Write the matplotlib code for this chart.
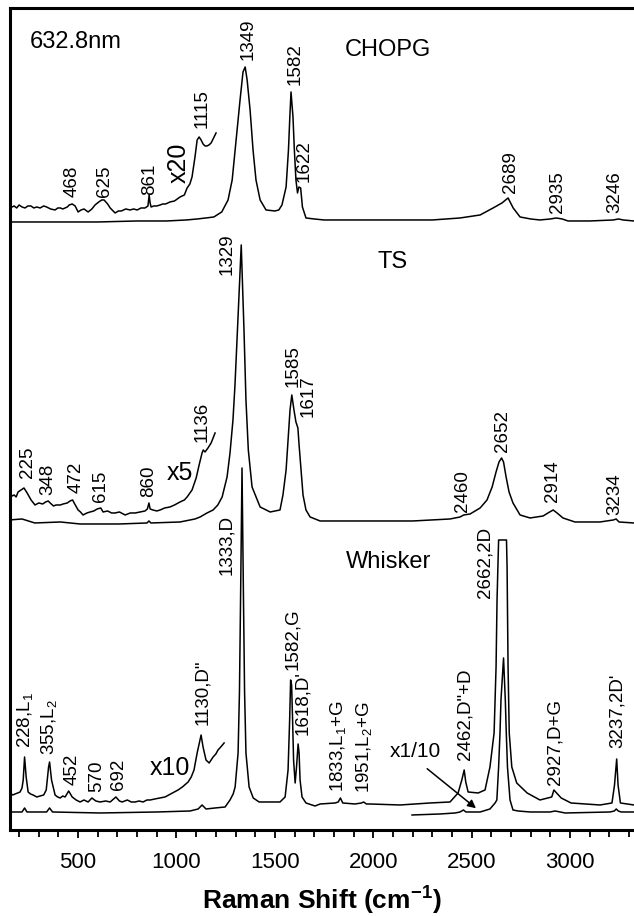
import numpy as np
import matplotlib
matplotlib.use("Agg")
import matplotlib.pyplot as plt
from matplotlib.ticker import MultipleLocator

plt.rcParams['font.family'] = ['Liberation Sans', 'DejaVu Sans']
plt.rcParams['mathtext.fontset'] = 'custom'
plt.rcParams['mathtext.rm'] = 'Liberation Sans'
plt.rcParams['mathtext.bf'] = 'Liberation Sans:bold'
plt.rcParams['mathtext.it'] = 'Liberation Sans:italic'

# ---- spectra: Raman shift (cm-1) and intensity above each trace's baseline (arb.)
chopg_x = [150, 400, 600, 800, 950, 1050, 1105, 1150, 1190, 1230, 1262, 1283, 1303, 1323, 1338, 1349,
           1359, 1374, 1389, 1404, 1425, 1455, 1500, 1520, 1536, 1557, 1569, 1576, 1582, 1592, 1599,
           1607, 1615, 1622, 1631, 1640, 1658, 1700, 1750, 2000, 2300, 2441, 2543, 2609, 2654, 2685,
           2711, 2746, 2800, 2847, 2900, 2930, 2960, 2990, 3100, 3220, 3246, 3270, 3325]
chopg_y = [0, 0, 0, 1, 1, 2, 3, 4, 5, 10, 22, 42, 82, 122, 150, 155,
           142, 112, 72, 42, 22, 12, 11, 12, 17, 35, 72, 105, 130, 105, 72,
           42, 29, 35, 34, 15, 4, 3, 2, 2, 2, 4, 7, 14, 19, 24,
           14, 5, 3, 2, 3, 4, 3, 1, 1, 2, 3, 2, 1]

chopg20_x = [150, 165, 175, 188, 200, 215, 230, 245, 260, 275, 290, 307, 325, 340, 360, 383, 397, 410,
             422, 434, 445, 455, 470, 485, 500, 515, 530, 551, 570, 586, 605, 620, 632, 650, 663,
             688, 705, 720, 742, 764, 782, 800, 820, 840, 855, 861, 866, 871, 885, 900, 917, 930,
             945, 967, 990, 1018, 1040, 1054, 1068, 1079, 1094, 1105, 1115, 1125, 1135, 1145, 1155,
             1165, 1176, 1191, 1201]
chopg20_y = [7, 5, 6, 4, 7, 5, 4, 6, 6, 4, 5, 4, 6, 5, 3, 2, 4, 4,
             3, 4, 5, 7, 8, 6, 0, 2, 3, 0, 3, 7, 10, 12, 12, 8, 4,
             -1, 1, 1, 3, 2, 3, 2, 4, 4, 6, 17, 9, 5, 6, 6, 7, 8,
             8, 10, 11, 15, 17, 24, 28, 35, 55, 72, 75, 72, 68, 66, 66,
             67, 69, 75, 79]

ts_x = [150, 215, 280, 410, 510, 710, 850, 860, 870, 1018, 1094, 1120, 1155, 1186, 1210, 1232, 1257,
        1272, 1287, 1297, 1313, 1329, 1343, 1353, 1365, 1384, 1425, 1476, 1526, 1541, 1557, 1567,
        1577, 1586, 1597, 1607, 1617, 1623, 1633, 1643, 1658, 1679, 1730, 1900, 2200, 2390, 2441,
        2460, 2492, 2543, 2578, 2604, 2624, 2639, 2652, 2662, 2675, 2690, 2710, 2746, 2797, 2863,
        2888, 2914, 2934, 2964, 3025, 3152, 3220, 3234, 3249, 3325]
ts_y = [3, 4, 0, 1, -1, -1, 0, 2, 0, 1, 4, 6, 10, 13, 18, 26, 46,
        70, 103, 137, 207, 278, 193, 123, 73, 36, 16, 11, 13, 28, 53, 83,
        113, 128, 113, 101, 95, 78, 53, 28, 13, 6, 2, 2, 2, 4, 6,
        8, 9, 15, 23, 36, 51, 61, 65, 61, 46, 31, 20, 8, 5, 7,
        10, 13, 10, 5, 1, 1, 3, 4, 1, 0]

ts5_x = [154, 165, 175, 185, 195, 210, 225, 241, 261, 281, 300, 320, 335, 348, 358, 375, 388, 410,
         424, 445, 459, 472, 480, 500, 512, 525, 545, 561, 580, 597, 615, 627, 650, 670, 688, 710,
         739, 765, 790, 815, 840, 852, 860, 866, 880, 900, 917, 940, 967, 990, 1018, 1040, 1054,
         1079, 1100, 1115, 1130, 1136, 1145, 1160, 1176, 1196]
ts5_y = [22, 19, 20, 18, 23, 25, 27, 22, 15, 10, 12, 11, 13, 14, 12, 9, 10, 10,
         11, 12, 14, 15, 12, 5, 3, 0, 2, 3, 4, 6, 7, 3, 4, 2, 2, 3,
         0, 2, 2, 3, 4, 6, 12, 6, 5, 4, 5, 7, 8, 10, 13, 15, 18,
         25, 37, 50, 62, 65, 63, 67, 72, 82]

wh_x = [150, 215, 228, 240, 340, 355, 370, 612, 900, 1069, 1110, 1130, 1150, 1196, 1247, 1272, 1288,
        1298, 1313, 1320, 1326, 1333, 1340, 1346, 1353, 1369, 1390, 1420, 1476, 1526, 1552, 1567,
        1575, 1580, 1585, 1590, 1595, 1603, 1610, 1618, 1623, 1628, 1638, 1658, 1704, 1730, 1806,
        1822, 1833, 1845, 1907, 1940, 1951, 1965, 1984, 2136, 2288, 2390, 2431, 2450, 2462, 2470,
        2482, 2533, 2568, 2593, 2614, 2624, 2629, 2634, 2637, 2677, 2680, 2685, 2691, 2704, 2729,
        2782, 2847, 2907, 2918, 2927, 2955, 3005, 3152, 3213, 3226, 3237, 3244, 3256, 3325]
wh_y = [0, 0, 4, 0, 0, 4, 0, -1, 0, 1, 3, 7, 3, 4, 5, 12, 18,
        25, 59, 120, 220, 344, 220, 120, 59, 25, 14, 10, 10, 10, 15, 42,
        92, 132, 127, 92, 52, 29, 45, 68, 59, 32, 15, 9, 6, 8, 9,
        10, 14, 9, 8, 9, 10, 8, 8, 7, 9, 10, 19, 32, 42, 30,
        20, 19, 22, 45, 79, 145, 212, 250, 272, 272, 245, 145, 79, 45, 29,
        19, 12, 15, 22, 20, 14, 9, 7, 9, 27, 53, 27, 9, 7]

wh10_x = [154, 168, 180, 193, 205, 215, 221, 228, 236, 246, 258, 271, 290, 307, 325, 338, 350, 355,
          365, 383, 396, 409, 422, 434, 452, 470, 490, 510, 530, 551, 570, 590, 612, 640, 663,
          692, 710, 724, 750, 770, 790, 810, 830, 850, 866, 890, 915, 942, 970, 1008, 1030, 1059,
          1075, 1089, 1105, 1125, 1135, 1150, 1166, 1186, 1200, 1211, 1225, 1242]
wh10_y = [10, 8, 9, 10, 11, 15, 23, 46, 26, 11, 9, 8, 6, 7, 8, 13, 36, 41,
          23, 8, 6, 5, 7, 6, 12, 6, 3, 1, 3, 1, 5, 2, 1, 2, 1,
          6, 2, 1, 3, 1, 1, 2, 1, 3, 3, 4, 5, 6, 9, 13, 16, 21,
          26, 33, 50, 68, 56, 43, 40, 46, 49, 53, 56, 60]

wh_tenth_x = [2197, 2339, 2416, 2441, 2458, 2471, 2543, 2593, 2619, 2628, 2637, 2644, 2649, 2662,
              2671, 2676, 2682, 2695, 2710, 2736, 2797, 2898, 2924, 2975, 3203, 3225, 3235, 3245,
              3260, 3325]
wh_tenth_y = [0, 1, 2, 3, 5, 3, 3, 6, 12, 15, 48, 82, 115, 157,
              115, 82, 48, 15, 5, 4, 3, 3, 4, 2, 3, 4, 6, 4,
              3, 3]

# ---- peak labels (text, x in cm-1, bottom of text in plot units)
chopg_labels = [("468", 470, 633), ("625", 632, 633), ("861", 866, 635), ("1115", 1130, 702),
                ("1349", 1364, 770), ("1582", 1603, 745), ("1622", 1648, 648),
                ("2689", 2695, 637), ("2935", 2934, 617), ("3246", 3229, 617)]
ts_labels = [("225", 241, 352), ("348", 348, 335), ("472", 490, 337), ("615", 612, 328),
             ("860", 856, 333), ("1136", 1130, 388), ("1329", 1257, 555), ("1585", 1592, 443),
             ("1617", 1669, 413), ("2460", 2456, 318), ("2652", 2659, 378),
             ("2914", 2913, 328), ("3234", 3229, 315)]
wh_labels = [(r"228,L$_{\mathrm{1}}$", 231, 82), (r"355,L$_{\mathrm{2}}$", 353, 75),
             ("452", 470, 45), ("570", 597, 38), ("692", 703, 40), ('1130,D"', 1135, 105),
             ("1333,D", 1257, 255), ("1582,G", 1592, 160), ("1618,D'", 1643, 95),
             (r"1833,L$_{\mathrm{1}}$+G", 1821, 38), (r"1951,L$_{\mathrm{2}}$+G", 1953, 37),
             ('2462,D"+D', 2466, 70), ("2662,2D", 2568, 232), ("2927,D+G", 2924, 45),
             ("3237,2D'", 3239, 82)]

# vertical offsets of the stacked traces
off_chopg, off_chopg20 = 608, 618
off_ts, off_ts5 = 307, 315
off_wh, off_wh10, off_wh_tenth = 18, 27, 15

fig = plt.figure(figsize=(6.34, 9.16), dpi=100)
ax = fig.add_axes([0.0158, 0.0939, 0.9842, 0.8974])

lw = 1.1
ax.plot(chopg_x, np.array(chopg_y) + off_chopg, color='k', lw=lw)
ax.plot(chopg20_x, np.array(chopg20_y) + off_chopg20, color='k', lw=lw)
ax.plot(ts_x, np.array(ts_y) + off_ts, color='k', lw=lw)
ax.plot(ts5_x, np.array(ts5_y) + off_ts5, color='k', lw=lw)
ax.plot(wh_x, np.array(wh_y) + off_wh, color='k', lw=lw)
ax.plot(wh10_x, np.array(wh10_y) + off_wh10, color='k', lw=lw)
ax.plot(wh_tenth_x, np.array(wh_tenth_y) + off_wh_tenth, color='k', lw=lw)

for txt, x, y in chopg_labels + ts_labels + wh_labels:
    ax.text(x, y, txt, rotation=90, ha='center', va='bottom', fontsize=13.5)

ax.text(256, 788, "632.8nm", fontsize=17, va='center')
ax.text(1857, 780, "CHOPG", fontsize=17, va='center')
ax.text(2024, 568, "TS", fontsize=17, va='center')
ax.text(1862, 268, "Whisker", fontsize=17, va='center')
ax.text(1013, 647, "x20", fontsize=18, rotation=90, ha='center', va='bottom')
ax.text(952, 357, "x5", fontsize=18, va='center')
ax.text(866, 62, "x10", fontsize=18, va='center')
ax.text(2085, 78, "x1/10", fontsize=15, va='center')
ax.annotate("", xy=(2533, 20), xytext=(2263, 63),
            arrowprops=dict(arrowstyle='-|>', color='k', lw=1.1, mutation_scale=12))

ax.set_xlim(154, 3325)
ax.set_ylim(0, 822)
ax.xaxis.set_major_locator(MultipleLocator(500))
ax.xaxis.set_minor_locator(MultipleLocator(100))
ax.tick_params(axis='x', which='major', direction='out', length=6, width=1.3, labelsize=16, pad=10)
ax.tick_params(axis='x', which='minor', direction='out', length=5, width=1.3)
ax.set_yticks([])
ax.spines['right'].set_visible(False)
for s in ['left', 'top', 'bottom']:
    ax.spines[s].set_linewidth(2.2)
ax.set_xlabel(r"Raman Shift (cm$^{\mathbf{-1}}$)", fontsize=19, fontweight='bold', labelpad=8)

fig.savefig("out.png", dpi=100)
